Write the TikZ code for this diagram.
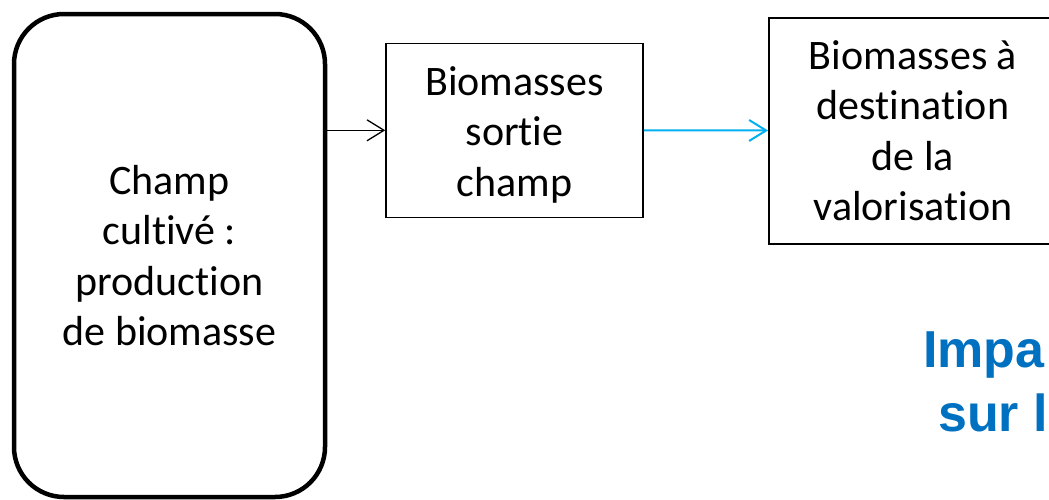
\documentclass[tikz,border=0pt]{standalone}
\usepackage{fontspec}
\setmainfont{Carlito}[Ligatures={NoCommon,NoDiscretionary,NoContextual}]
\newfontfamily\arialfont{Liberation Sans}
\usetikzlibrary{arrows.meta}
\definecolor{arrowblue}{HTML}{00B0F0}
\definecolor{titleblue}{HTML}{0070C0}
\begin{document}
\begin{tikzpicture}[x=1pt,y=-1pt,
  boxtext/.style={font=\fontsize{42}{50.5}\selectfont, align=center, inner sep=0pt},
  flowbox/.style={boxtext, draw=black, line width=1.6pt},
  conn/.style={line width=1.3pt, -{Straight Barb[length=17pt,width=21pt,line width=1.3pt]}},
  titletext/.style={font=\arialfont\bfseries\fontsize{52}{64}\selectfont, text=titleblue, inner sep=0pt, anchor=base west}]
\useasboundingbox (0,0) rectangle (1049,499);
\clip (0,0) rectangle (1049,499);
\node[boxtext, draw=black, line width=4.5pt, rounded corners=50pt,
      minimum width=311pt, minimum height=483pt] (champ) at (169.5,255.5)
      {Champ\\cultivé :\\production\\de biomasse};
\node[flowbox, minimum width=257pt, minimum height=174pt] (sortie) at (514.5,130.3)
      {\rule{0pt}{38pt}Biomasses\\sortie\\champ};
\node[flowbox, line width=2pt, minimum width=288pt, minimum height=226pt] (dest) at (913,130.5)
      {Biomasses à\\destination\\de la\\valorisation};
\draw[conn] (champ.east |- sortie.west) -- (sortie.west);
\draw[conn, draw=arrowblue, line width=2pt, -{Straight Barb[length=17pt,width=21pt,line width=2pt]}] (sortie.east) -- (dest.west);
\node[titletext] (impa) at (923,367) {Impa};
\node[titletext] (surl) at (938,431) {sur l};
\end{tikzpicture}
\end{document}
